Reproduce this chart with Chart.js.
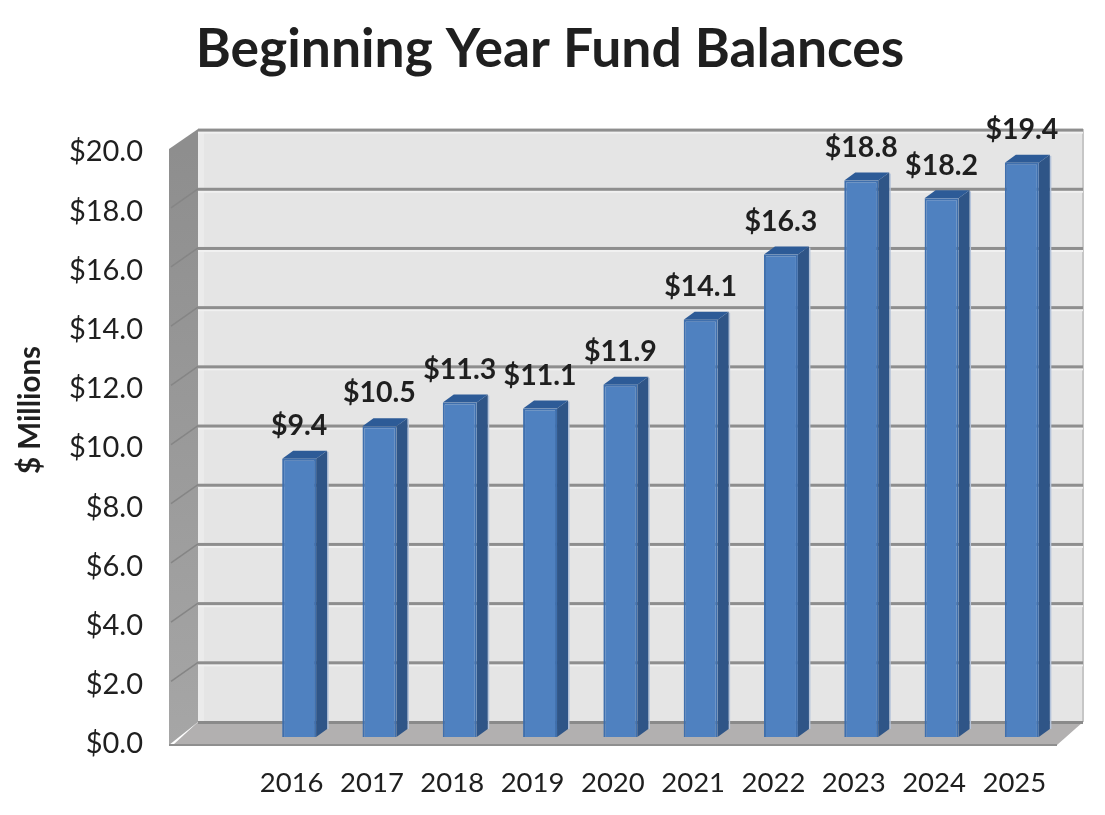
<!DOCTYPE html>
<html>
<head>
<meta charset="utf-8">
<title>Beginning Year Fund Balances</title>
<style>html,body{margin:0;padding:0;background:#fff}canvas{display:block}</style>
<script src="https://cdn.jsdelivr.net/npm/chart.js@4"></script>
</head>
<body>
<canvas id="c" width="1105" height="815"></canvas>
<script>
const categories = ["2016","2017","2018","2019","2020","2021","2022","2023","2024","2025"];
const balances = [9.4,10.5,11.3,11.1,11.9,14.1,16.3,18.8,18.2,19.4];
const chartTitle = "Beginning Year Fund Balances";
const axisTitle = "$ Millions";
const money = v => "$" + Number(v).toFixed(1);

const FONT = "Lato, Carlito, 'Open Sans', sans-serif";
const room = {wallLeft:169, backLeft:198, backRight:1083, floorRight:1057};
const barDepth = {x:11, y:-8};

const scene = {
  id:"scene",
  beforeDatasetsDraw(chart){
    const c = chart.ctx, y = chart.scales.y;
    const y0 = y.getPixelForValue(0), y20 = y.getPixelForValue(20);
    const backBottom = y0 - 20, backTop = y20 - 21, front = y0 + 3;
    c.save();
    // back wall
    c.fillStyle = "#e5e5e5";
    c.fillRect(room.backLeft, backTop, room.backRight-room.backLeft, backBottom-backTop);
    c.fillStyle = "#ebebeb";
    c.fillRect(room.backLeft, backTop, 6, backBottom-backTop);
    c.fillStyle = "#c6c6c6";
    c.fillRect(room.backRight-1, backTop, 2, backBottom-backTop);
    // left wall
    const g = c.createLinearGradient(0, y20, 0, front);
    g.addColorStop(0,"#8e8e8e"); g.addColorStop(1,"#a6a6a6");
    c.fillStyle = g;
    c.beginPath();
    c.moveTo(room.wallLeft, y20-1); c.lineTo(room.backLeft, backTop);
    c.lineTo(room.backLeft, backBottom); c.lineTo(room.wallLeft, front);
    c.closePath(); c.fill();
    // floor
    c.fillStyle = "#b2b0b0";
    c.beginPath();
    c.moveTo(room.backLeft, backBottom); c.lineTo(room.backRight, backBottom);
    c.lineTo(room.floorRight, front); c.lineTo(room.wallLeft+4, front);
    c.closePath(); c.fill();
    c.fillStyle = "#8f8f8f";
    c.fillRect(room.wallLeft, front-1, room.floorRight-room.wallLeft, 2);
    c.fillStyle = "#8a8a8a";
    c.fillRect(room.backLeft, backBottom-1, room.backRight-room.backLeft, 3);
    // grid lines
    y.ticks.forEach(t => {
      const py = y.getPixelForValue(t.value) - 20.5;
      if (t.value !== 0) {
        c.fillStyle = "#f1f1f1";
        c.fillRect(room.backLeft, py+2, room.backRight-room.backLeft, 2);
        c.fillStyle = "#8e8e8e";
        c.fillRect(room.backLeft, py-1, room.backRight-room.backLeft, 3);
      }
      if (t.value !== 0 && t.value !== 20) {
        c.strokeStyle = "#858585"; c.lineWidth = 1.5;
        c.beginPath(); c.moveTo(room.backLeft, py);
        c.lineTo(room.wallLeft+2, py+19); c.stroke();
      }
    });
    // bar side and top faces
    chart.getDatasetMeta(0).data.forEach(b => {
      const L = b.x - b.width/2, R = b.x + b.width/2, T = b.y, B = b.base;
      const dx = barDepth.x, dy = barDepth.y;
      c.fillStyle = "#b4c3da";
      c.fillRect(R+dx, T+dy+1, 1.5, B-T-1);
      c.fillStyle = "#2f5587";
      c.beginPath(); c.moveTo(R,T); c.lineTo(R+dx,T+dy); c.lineTo(R+dx,B+dy); c.lineTo(R,B); c.closePath(); c.fill();
      c.fillStyle = "#2d5b97";
      c.beginPath(); c.moveTo(L,T); c.lineTo(L+dx,T+dy); c.lineTo(R+dx,T+dy); c.lineTo(R,T); c.closePath(); c.fill();
    });
    c.restore();
  },
  afterDatasetsDraw(chart){
    const c = chart.ctx;
    c.save();
    c.font = "bold 28.5px " + FONT;
    c.fillStyle = "#1f1f1f";
    c.textAlign = "center"; c.textBaseline = "middle";
    chart.getDatasetMeta(0).data.forEach((b,i) => {
      c.fillText(money(balances[i]), b.x, b.y-33);
    });
    c.translate(30, 410);
    c.rotate(-Math.PI/2);
    c.font = "bold 29.5px " + FONT;
    c.fillText(axisTitle, 0, 0);
    c.restore();
  }
};

Chart.defaults.font.family = FONT;
new Chart(document.getElementById("c"), {
  type:"bar",
  data:{labels:categories, datasets:[{
    data:balances, yAxisID:"yBars",
    backgroundColor:"#4f81c0", borderColor:"#3f6fad", borderWidth:2,
    barPercentage:0.423, categoryPercentage:1
  }]},
  plugins:[scene],
  options:{
    responsive:false, animation:false,
    layout:{padding:{left:38,right:43,top:0,bottom:0}},
    plugins:{
      legend:{display:false}, tooltip:{enabled:false},
      title:{display:true,text:chartTitle,color:"#1f1f1f",
        font:{size:53.4,weight:"bold",family:FONT,lineHeight:1.2},
        padding:{top:18,bottom:68}}
    },
    scales:{
      x:{
        grid:{display:false,drawTicks:false}, border:{display:false},
        ticks:{color:"#1f1f1f",font:{size:27.5},padding:25,labelOffset:-7.5,maxRotation:0,autoSkip:false},
        afterFit(s){s.height=73;}
      },
      y:{
        min:0,max:20,
        grid:{display:false,drawTicks:false}, border:{display:false},
        ticks:{stepSize:2,color:"#1f1f1f",font:{size:29},padding:116,labelOffset:2,callback:money},
        afterFit(s){s.width=221;s.paddingTop=0;s.paddingBottom=0;}
      },
      yBars:{display:false,min:-0.169,max:19.831}
    }
  }
});
</script>
</body>
</html>
